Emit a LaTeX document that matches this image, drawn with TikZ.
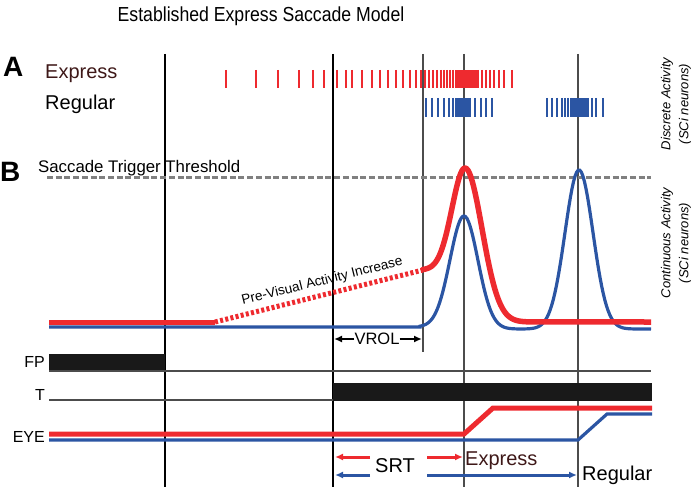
\documentclass[tikz,border=0pt]{standalone}
\usepackage{fontspec}
\setmainfont{Liberation Sans}
\newfontfamily\narrowfont[FakeStretch=0.87]{Liberation Sans}
\usetikzlibrary{arrows.meta,positioning}
\definecolor{spred}{HTML}{EE2A2F}
\definecolor{spblue}{HTML}{2B55A3}
\definecolor{exbrown}{HTML}{3E1818}
\newcommand{\fsz}[1]{\fontsize{#1}{#1}\selectfont}
\tikzset{
  lbl/.style={inner sep=0pt,font=\fsz{16}},
  big/.style={inner sep=0pt,font=\fsz{20}},
  panel/.style={inner sep=0pt,font=\fsz{28}\bfseries},
  side/.style={inner sep=0pt,rotate=90,font=\fsz{13}\itshape},
  tline/.style={line width=1.3},
  gline/.style={line width=1.8,black!70},
  redspike/.style={spred,line width=2.6},
  bluespike/.style={spblue,line width=2.6},
  srtarrow/.style={line width=3,-{Latex[length=8pt,width=7pt]}}
}
\begin{document}
\begin{tikzpicture}[>=Latex,x=1pt,y=-1pt]
\useasboundingbox (0,0) rectangle (694,487);
\node[lbl,font=\narrowfont\fsz{20.3},anchor=base] (title) at (261,22) {Established Express Saccade Model};
\node[panel,anchor=base west] (pA) at (3,77) {A};
\node[panel,anchor=base west] (pB) at (0,181) {B};
% time markers
\draw[tline] (165,54)--(165,487); \draw[tline] (333,54)--(333,487);
\draw[gline] (423,54)--(423,352); \draw[gline] (464,54)--(464,487); \draw[gline] (578,54)--(578,487);
% A: discrete activity
\node[big,anchor=base west,text=exbrown] (lexp) at (45,79) {Express};
\node[big,anchor=base west] (lreg) at (45,110) {Regular};
\foreach \s in {226,256,278,299,313,324,337,346,352,362,372,380,388,396,403,410,416,421,425,429,433,437,441,444,447,450,453,478,482,486,490,494,499,504,512}
  \draw[redspike] (\s,70)--(\s,88);
\fill[spred] (455,70) rectangle (477,88);
\foreach \s in {426,432,438,444,449,453,475,481,486,492,547,552,557,562,565,568,571,592,596,603}
  \draw[bluespike] (\s,98)--(\s,117);
\fill[spblue] (455,98) rectangle (471,117);
\fill[spblue] (572,98) rectangle (589,117);
\node[side] (ldisc) at (667,104) {Discrete Activity};
\node[side] (ldisc2) at (685,104) {(SCi neurons)};
% B: continuous activity
\draw[black!50,line width=3,dash pattern=on 6pt off 2.7pt] (47,177)--(651,177);
\node[lbl,font=\fsz{16.8},anchor=base west] (lthr) at (38,172) {Saccade Trigger Threshold};
\node[side] (lcont) at (667,243) {Continuous Activity};
\node[side] (lcont2) at (685,243) {(SCi neurons)};
\draw[spblue,line width=3.2] (49,327)--(420,327)
  --plot[domain=420:464,samples=40] (\x,{327-111*exp(-((\x-464)/14)^2/2)})
  --plot[domain=464:520,samples=40] (\x,{329-113*exp(-((\x-464)/14)^2/2)})
  --plot[domain=525:633,samples=70] (\x,{329-159*exp(-((\x-579)/14)^2/2)})
  --(651,329);
\draw[spred,line width=5] (49,322)--(215,322);
\draw[spred,line width=5,dash pattern=on 3pt off 2.3pt] (215,322)--(423,270);
\draw[spred,line width=5.5,line join=round] (423,270)
  --plot[domain=423:465,samples=40] (\x,{270-102*exp(-((\x-465)/13)^2/2)})
  --plot[domain=465:535,samples=50] (\x,{322-154*exp(-((\x-465)/17)^2/2)})
  --(651,322);
\node[lbl,font=\fsz{13.6},anchor=base,rotate=14] (lpvi) at (323,285) {Pre-Visual Activity Increase};
\node[lbl,font=\fsz{16.5}] (vrol) at (377,339) {VROL};
\coordinate (vrl) at (334,339); \coordinate (vrr) at (422,339);
\draw[line width=2.4,-{Latex[length=8pt,width=7pt]}] (vrol.west)--(vrl);
\draw[line width=2.4,-{Latex[length=8pt,width=7pt]}] (vrol.east)--(vrr);
% stimuli and eye position
\node[lbl,anchor=base east] (lfp) at (45,367) {FP};
\node[lbl,anchor=base east] (lt) at (45,400) {T};
\node[lbl,anchor=base east] (leye) at (45,442) {EYE};
\fill[black!90] (49,354) rectangle (165,371);
\draw[gline,line width=1.5] (49,371)--(651,371);
\draw[gline,line width=1.5] (49,400)--(333,400);
\fill[black!90] (333,383) rectangle (652,401);
\draw[spblue,line width=3.2] (49,440)--(578,440)--(607,414)--(652,414);
\draw[spred,line width=5] (49,434)--(464,434)--(493,408)--(652,408);
% saccadic reaction times
\node[big,anchor=base] (srt) at (395,472) {SRT};
\coordinate (rs) at (335,457); \coordinate (rl) at (370,457);
\coordinate (rr) at (427,457); \coordinate (re) at (463,457);
\coordinate (bs) at (335,475); \coordinate (bl) at (370,475);
\coordinate (br) at (427,475); \coordinate (be) at (577,475);
\draw[srtarrow,spred] (rl)--(rs); \draw[srtarrow,spred] (rr)--(re);
\draw[srtarrow,spblue] (bl)--(bs); \draw[srtarrow,spblue] (br)--(be);
\node[big,anchor=base west,text=exbrown] (lexp2) at (465,465) {Express};
\node[big,anchor=base west] (lreg2) at (582,480) {Regular};
\end{tikzpicture}
\end{document}
